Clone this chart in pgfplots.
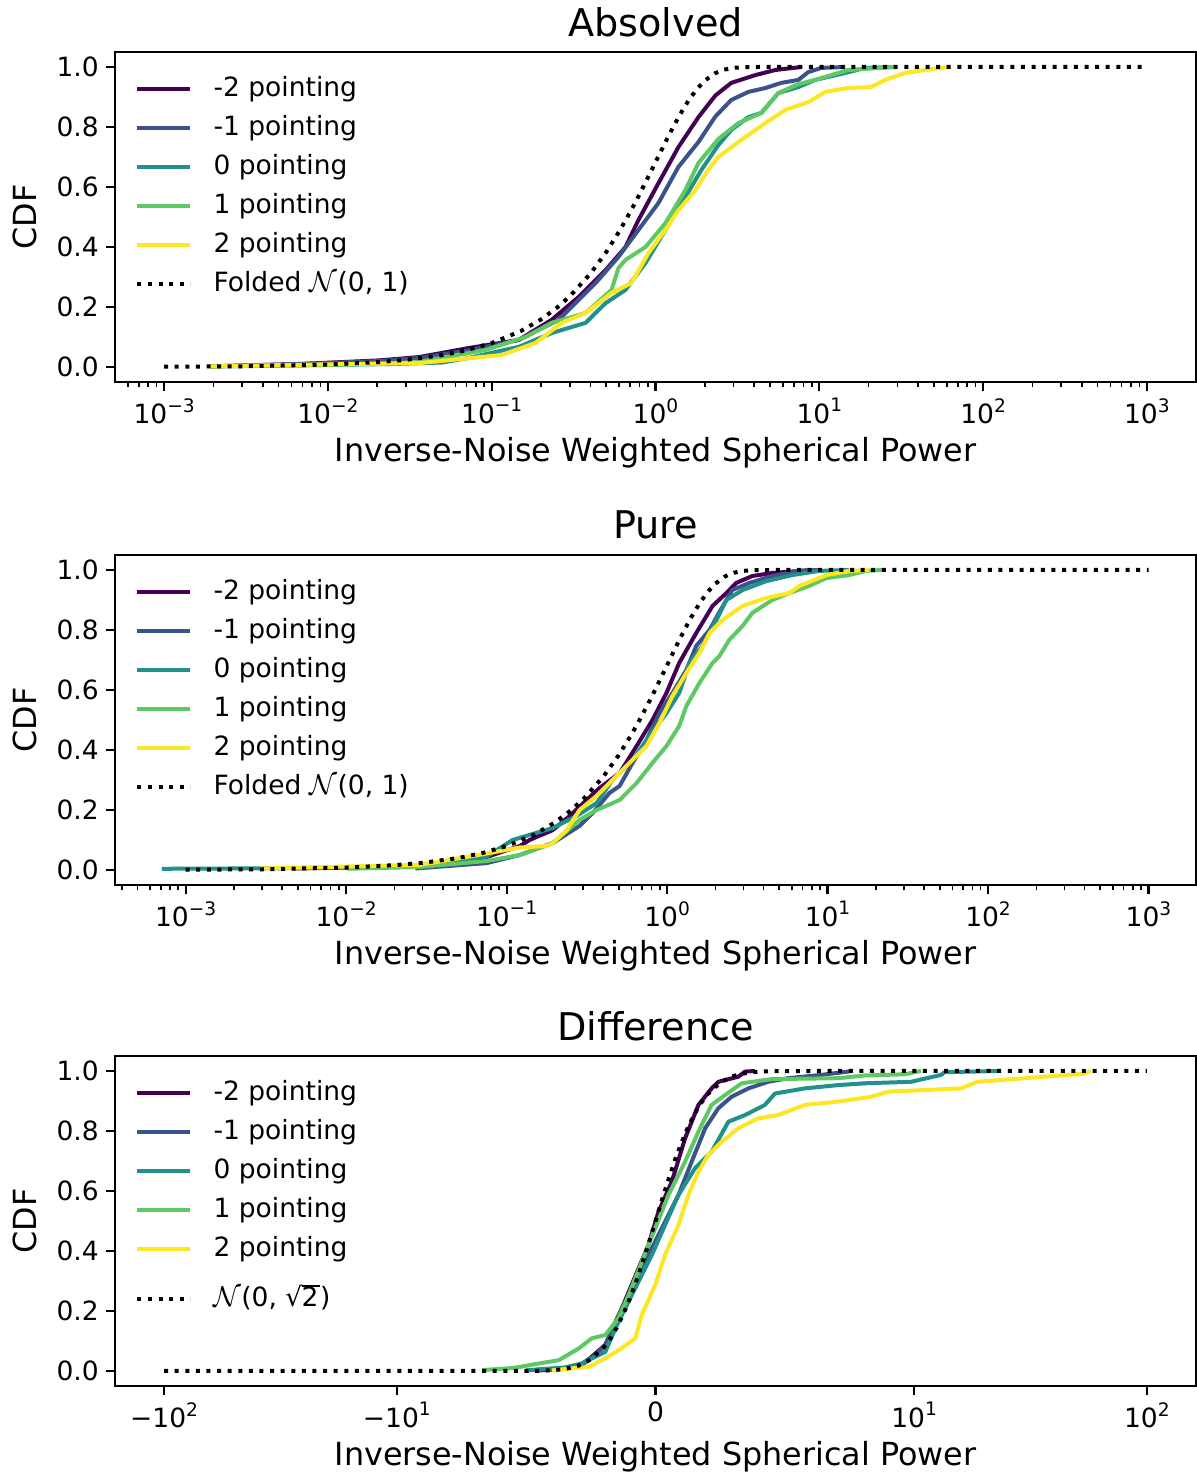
\documentclass[border=0pt]{standalone}
\usepackage{fontspec}
\setmainfont{DejaVu Sans}
\usepackage{pgfplots}
\pgfplotsset{compat=1.18}
\definecolor{v0}{HTML}{440154}
\definecolor{v1}{HTML}{3B528B}
\definecolor{v2}{HTML}{21918C}
\definecolor{v3}{HTML}{5EC962}
\definecolor{v4}{HTML}{FDE725}
\newcommand{\sups}[1]{\raisebox{5.6bp}{\fontsize{9.3bp}{11bp}\selectfont #1}}
\newcommand{\dvsqrt}[1]{\setbox0\hbox{√}\setbox2\hbox{#1}%
  \mbox{\copy0\kern-0.3bp\rlap{\rule[\dimexpr\ht0-0.9bp\relax]{\dimexpr\wd2+0.8bp\relax}{0.9bp}}\box2\kern0.8bp}}
\pgfplotsset{
  cdf/.style={
    scale only axis, width=540.5bp, height=165bp,
    ymin=-0.05, ymax=1.05,
    ytick={0,0.2,0.4,0.6,0.8,1},
    yticklabels={0.0,0.2,0.4,0.6,0.8,1.0},
    tick pos=left, tick align=outside,
    major tick length=4.64bp, minor tick length=2.65bp,
    every tick/.style={black, line width=1.06bp},
    every minor tick/.style={black, line width=0.8bp},
    axis line style={black, line width=1.06bp},
    ticklabel style={font=\fontsize{13.25bp}{16bp}\selectfont},
    every axis title/.style={at={(axis description cs:0.5,1.0909)}, anchor=center, font=\fontsize{19.1bp}{23bp}\selectfont},
    every axis x label/.style={at={(axis description cs:0.5,-0.2152)}, anchor=center, font=\fontsize{15.9bp}{19bp}\selectfont},
    every axis y label/.style={at={(axis description cs:-0.0833,0.5)}, anchor=center, rotate=90, font=\fontsize{15.9bp}{19bp}\selectfont},
    xlabel={Inverse-Noise Weighted Spherical Power},
    ylabel={CDF},
    legend cell align=left,
    legend style={at={(axis description cs:0,1)}, anchor=north west, xshift=10bp, yshift=-11.85bp,
      draw=none, fill=none, inner sep=0pt, row sep=6.2bp, column sep=10.6bp,
      font=\fontsize{13.25bp}{16bp}\selectfont,
      nodes={inner sep=0pt, text height=10.1bp, text depth=3.2bp}},
    legend image code/.code={\draw[#1] (0bp,0bp) -- (26.5bp,0bp);},
    every axis plot/.append style={line width=2bp, line join=round},
  },
  logticks/.style={
    xtick={0.001,0.01,0.1,1,10,100,1000},
    xticklabels={10\sups{−3},10\sups{−2},10\sups{−1},10\sups{0},10\sups{1},10\sups{2},10\sups{3}},
    minor xtick={0.0004,0.0005,0.0006,0.0007,0.0008,0.0009,
      0.002,0.003,0.004,0.005,0.006,0.007,0.008,0.009,
      0.02,0.03,0.04,0.05,0.06,0.07,0.08,0.09,
      0.2,0.3,0.4,0.5,0.6,0.7,0.8,0.9,
      2,3,4,5,6,7,8,9,20,30,40,50,60,70,80,90,
      200,300,400,500,600,700,800,900},
  },
  theory/.style={black, dash pattern=on 2bp off 3.3bp},
}
\begin{document}
\begin{tikzpicture}
\path[use as bounding box] (0,0) rectangle (598.5bp,737.5bp);
% ---------------- Panel 1
\begin{axis}[xmode=log, log basis x=10, cdf, logticks, at={(57.5bp,546.5bp)}, anchor=south west,
  xmin=5.012e-4, xmax=1995, title={Absolved}]
\addplot[v0] coordinates {(0.0019,0.002)(0.0067,0.01)(0.0205,0.022)(0.036,0.033)(0.072,0.063)(0.146,0.09)(0.232,0.157)(0.339,0.233)(0.496,0.323)(0.656,0.40)(0.787,0.49)(1.043,0.613)(1.38,0.733)(1.829,0.833)(2.32,0.905)(2.90,0.947)(4.07,0.973)(5.39,0.99)(7.77,1.0)};
\addlegendentry{-2 pointing}
\addplot[v1] coordinates {(0.0019,0.002)(0.007,0.01)(0.021,0.02)(0.036,0.03)(0.072,0.055)(0.146,0.09)(0.256,0.157)(0.431,0.28)(0.594,0.367)(0.787,0.457)(1.043,0.547)(1.38,0.667)(1.829,0.75)(2.32,0.835)(2.90,0.89)(3.69,0.917)(4.69,0.93)(5.86,0.947)(7.45,0.957)(8.57,0.983)(10.3,0.997)(14.4,1.0)};
\addlegendentry{-1 pointing}
\addplot[v2] coordinates {(0.0019,0.002)(0.008,0.006)(0.025,0.01)(0.05,0.015)(0.072,0.03)(0.146,0.067)(0.232,0.113)(0.374,0.147)(0.43,0.18)(0.496,0.213)(0.656,0.257)(0.869,0.347)(1.151,0.457)(1.523,0.567)(1.907,0.657)(2.42,0.74)(2.90,0.79)(3.69,0.833)(4.43,0.847)(5.62,0.913)(7.45,0.933)(9.46,0.957)(14.4,0.98)(19.1,0.997)(29.0,1.0)};
\addlegendentry{0 pointing}
\addplot[v3] coordinates {(0.0019,0.002)(0.008,0.006)(0.025,0.012)(0.036,0.017)(0.0918,0.057)(0.161,0.10)(0.232,0.147)(0.374,0.18)(0.539,0.257)(0.594,0.33)(0.656,0.357)(0.869,0.40)(1.151,0.48)(1.523,0.59)(1.829,0.68)(2.42,0.76)(3.21,0.813)(4.43,0.847)(5.62,0.913)(7.45,0.943)(9.46,0.957)(15.0,0.99)(29.0,1.0)};
\addlegendentry{1 pointing}
\addplot[v4] coordinates {(0.0019,0.002)(0.008,0.008)(0.025,0.012)(0.036,0.013)(0.115,0.04)(0.185,0.08)(0.267,0.147)(0.374,0.18)(0.539,0.247)(0.714,0.28)(0.906,0.38)(1.151,0.457)(1.38,0.523)(1.754,0.59)(2.10,0.657)(2.42,0.70)(3.34,0.757)(4.69,0.813)(6.21,0.857)(8.57,0.883)(10.9,0.917)(15.0,0.93)(20.7,0.933)(25.2,0.957)(33.4,0.98)(48.2,0.993)(63.8,1.0)};
\addlegendentry{2 pointing}
\addplot[theory] coordinates {(0.001,0.0008)(0.003,0.0024)(0.01,0.008)(0.02,0.016)(0.03,0.0239)(0.05,0.0399)(0.07,0.0558)(0.1,0.0797)(0.15,0.1192)(0.2,0.1585)(0.25,0.1974)(0.3,0.2358)(0.4,0.3108)(0.5,0.3829)(0.6,0.4515)(0.7,0.5161)(0.8,0.5763)(0.9,0.6319)(1.0,0.6827)(1.2,0.7699)(1.4,0.8385)(1.6,0.8904)(1.8,0.9281)(2.0,0.9545)(2.3,0.9786)(2.6,0.9907)(3.0,0.9973)(3.5,0.9995)(4,0.99994)(5,1.0)(1000,1.0)};
\addlegendentry{Folded \(\mathcal{N}\)(0, 1)}
\end{axis}
% ---------------- Panel 2
\begin{axis}[xmode=log, log basis x=10, cdf, logticks, at={(57.5bp,295bp)}, anchor=south west,
  xmin=3.63e-4, xmax=1977, title={Pure}]
\addplot[v0] coordinates {(0.0046,0.005)(0.0288,0.012)(0.0589,0.025)(0.121,0.08)(0.139,0.10)(0.194,0.133)(0.247,0.18)(0.315,0.233)(0.379,0.273)(0.506,0.323)(0.646,0.413)(0.811,0.50)(0.991,0.59)(1.19,0.69)(1.52,0.79)(1.92,0.88)(2.34,0.923)(2.70,0.957)(3.40,0.98)(4.53,0.99)(8.04,1.0)};
\addlegendentry{-2 pointing}
\addplot[v1] coordinates {(0.027,0.005)(0.0751,0.023)(0.121,0.05)(0.194,0.09)(0.285,0.147)(0.344,0.19)(0.438,0.257)(0.506,0.28)(0.610,0.357)(0.744,0.433)(0.897,0.523)(1.08,0.59)(1.32,0.667)(1.52,0.747)(1.84,0.80)(2.12,0.86)(2.55,0.933)(3.26,0.957)(4.53,0.98)(6.67,0.997)(8.88,1.0)};
\addlegendentry{-1 pointing}
\addplot[v2] coordinates {(0.00071,0.004)(0.005,0.006)(0.0288,0.012)(0.0751,0.045)(0.109,0.10)(0.194,0.14)(0.273,0.18)(0.364,0.223)(0.457,0.30)(0.610,0.367)(0.776,0.447)(0.991,0.523)(1.19,0.59)(1.38,0.69)(1.66,0.747)(2.03,0.833)(2.34,0.90)(2.95,0.933)(4.16,0.963)(6.03,0.983)(8.88,0.997)(13.6,1.0)};
\addlegendentry{0 pointing}
\addplot[v3] coordinates {(0.0102,0.004)(0.0288,0.01)(0.0751,0.03)(0.121,0.05)(0.194,0.09)(0.285,0.167)(0.364,0.20)(0.506,0.233)(0.646,0.29)(0.811,0.357)(0.991,0.413)(1.19,0.48)(1.32,0.547)(1.59,0.623)(1.92,0.69)(2.12,0.713)(2.44,0.767)(2.95,0.813)(3.40,0.857)(4.53,0.90)(5.78,0.923)(7.70,0.947)(9.82,0.973)(13.6,0.983)(17.4,0.997)(21.9,1.0)};
\addlegendentry{1 pointing}
\addplot[v4] coordinates {(0.0029,0.005)(0.005,0.008)(0.0288,0.017)(0.0589,0.045)(0.121,0.075)(0.178,0.08)(0.194,0.09)(0.237,0.133)(0.285,0.20)(0.364,0.247)(0.457,0.30)(0.583,0.357)(0.744,0.413)(0.897,0.49)(1.08,0.58)(1.32,0.657)(1.59,0.723)(1.84,0.79)(2.21,0.833)(2.95,0.88)(4.16,0.907)(5.78,0.923)(6.67,0.947)(9.82,0.983)(13.6,0.997)(18.2,1.0)};
\addlegendentry{2 pointing}
\addplot[theory] coordinates {(0.001,0.0008)(0.003,0.0024)(0.01,0.008)(0.02,0.016)(0.03,0.0239)(0.05,0.0399)(0.07,0.0558)(0.1,0.0797)(0.15,0.1192)(0.2,0.1585)(0.25,0.1974)(0.3,0.2358)(0.4,0.3108)(0.5,0.3829)(0.6,0.4515)(0.7,0.5161)(0.8,0.5763)(0.9,0.6319)(1.0,0.6827)(1.2,0.7699)(1.4,0.8385)(1.6,0.8904)(1.8,0.9281)(2.0,0.9545)(2.3,0.9786)(2.6,0.9907)(3.0,0.9973)(3.5,0.9995)(4,0.99994)(5,1.0)(1000,1.0)};
\addlegendentry{Folded \(\mathcal{N}\)(0, 1)}
\end{axis}
% ---------------- Panel 3 (symlog, linthresh 10)
\begin{axis}[cdf, at={(57.5bp,44.5bp)}, anchor=south west,
  xmin=-23.22, xmax=23.22, title={Difference},
  x filter/.code={\pgfmathparse{1.1111111*min(max(#1,-10),10)+(#1<0 ? -10 : 10)*ln(max(abs(#1),10)/10)/2.302585093}},
  xtick={-21.1111,-11.1111,0,11.1111,21.1111},
  xticklabels={−10\sups{2},−10\sups{1},0,10\sups{1},10\sups{2}}]
\addplot[v0] coordinates {(-4.5,0.002)(-3.5,0.008)(-2.84,0.02)(-1.94,0.087)(-1.30,0.209)(-0.656,0.342)(-0.27,0.42)(0.116,0.531)(0.63,0.631)(1.145,0.776)(1.66,0.887)(2.17,0.942)(2.43,0.964)(3.2,0.981)(3.46,0.998)(3.85,1.0)};
\addlegendentry{-2 pointing}
\addplot[v1] coordinates {(-5.0,0.002)(-3.5,0.01)(-2.84,0.025)(-2.33,0.053)(-1.94,0.087)(-1.55,0.164)(-1.04,0.253)(-0.656,0.331)(-0.14,0.409)(0.37,0.498)(0.89,0.587)(1.40,0.698)(1.92,0.809)(2.43,0.876)(2.94,0.914)(3.59,0.942)(4.36,0.964)(5.13,0.976)(6.41,0.987)(7.44,0.998)(7.56,1.0)};
\addlegendentry{-1 pointing}
\addplot[v2] coordinates {(-5.0,0.002)(-3.5,0.012)(-2.84,0.025)(-1.94,0.064)(-1.55,0.142)(-1.17,0.209)(-0.656,0.298)(-0.14,0.387)(0.37,0.487)(0.89,0.587)(1.53,0.676)(2.17,0.731)(2.82,0.831)(3.46,0.853)(4.23,0.887)(4.62,0.925)(5.77,0.942)(7.06,0.953)(8.09,0.959)(9.88,0.964)(13.06,0.987)(13.5,0.996)(22.9,1.0)};
\addlegendentry{0 pointing}
\addplot[v3] coordinates {(-6.7,0.003)(-5.5,0.01)(-4.51,0.025)(-3.74,0.036)(-2.97,0.075)(-2.46,0.109)(-1.94,0.12)(-1.43,0.176)(-1.04,0.253)(-0.53,0.364)(-0.01,0.476)(0.50,0.587)(1.145,0.698)(1.66,0.798)(2.17,0.887)(2.69,0.92)(3.33,0.959)(4.49,0.973)(7.06,0.976)(8.09,0.985)(9.63,0.989)(10.7,1.0)};
\addlegendentry{1 pointing}
\addplot[v4] coordinates {(-4.0,0.002)(-2.58,0.014)(-1.94,0.042)(-1.43,0.069)(-0.78,0.109)(-0.53,0.187)(-0.01,0.287)(0.37,0.387)(0.89,0.487)(1.27,0.587)(1.66,0.664)(2.04,0.72)(2.56,0.764)(3.20,0.809)(3.97,0.842)(4.74,0.853)(5.77,0.887)(7.06,0.898)(8.34,0.914)(8.99,0.931)(15.9,0.942)(18.7,0.964)(29.8,0.976)(53.8,0.991)(57.4,1.0)};
\addlegendentry{2 pointing}
\addplot[theory] coordinates {(-100,0)(-10,0)(-6,0.00001)(-5,0.0002)(-4.5,0.0007)(-4,0.0023)(-3.5,0.0067)(-3,0.0169)(-2.5,0.0385)(-2,0.0786)(-1.75,0.108)(-1.5,0.1444)(-1.25,0.1884)(-1,0.2398)(-0.75,0.2979)(-0.5,0.3618)(-0.25,0.4298)(0,0.5)(0.25,0.5702)(0.5,0.6382)(0.75,0.7021)(1,0.7602)(1.25,0.8116)(1.5,0.8556)(1.75,0.892)(2,0.9214)(2.5,0.9615)(3,0.9831)(3.5,0.9933)(4,0.9977)(4.5,0.9993)(5,0.9998)(6,1)(10,1)(100,1)};
\addlegendentry[text height=15.6bp, text depth=8.7bp]{\(\mathcal{N}\)(0, \dvsqrt{2})}
\end{axis}
\end{tikzpicture}
\end{document}
